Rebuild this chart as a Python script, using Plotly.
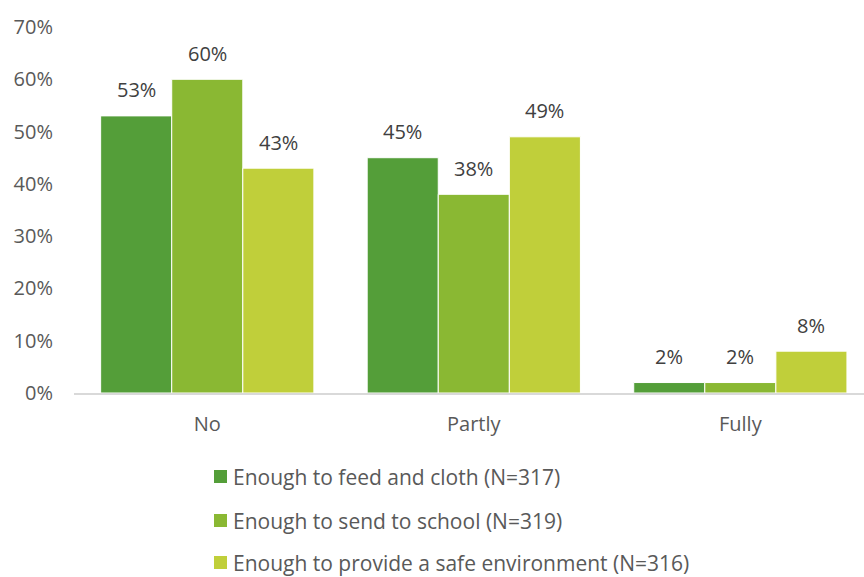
import plotly.graph_objects as go

categories = ["No", "Partly", "Fully"]
series_names = [
    "Enough to feed and cloth (N=317)",
    "Enough to send to school (N=319)",
    "Enough to provide a safe environment (N=316)",
]
feed_cloth = [0.53, 0.45, 0.02]
send_school = [0.60, 0.38, 0.02]
safe_env = [0.43, 0.49, 0.08]
colors = ["#549E39", "#8AB833", "#C0CF3A"]
y_ticks = [0, 0.1, 0.2, 0.3, 0.4, 0.5, 0.6, 0.7]

FONT = "Open Sans"
FS = 20
FS_LEGEND = 21
W, H = 864, 577
M_L, M_R, M_T, M_B = 74, 0, 27, 184
series = [feed_cloth, send_school, safe_env]
bargap = 0.2
n = len(series)
bar_w = (1 - bargap) / n


def px_to_paper(px, py):
    """Convert pixel position in the page to paper coordinates."""
    return ((px - M_L) / (W - M_L - M_R), (H - M_B - py) / (H - M_T - M_B))


fig = go.Figure()
annotations = []
shapes = []
for j, (name, vals, col) in enumerate(zip(series_names, series, colors)):
    fig.add_trace(go.Bar(
        x=categories, y=vals, name=name,
        marker=dict(color=col, line=dict(color="#FFFFFF", width=1)),
        hoverinfo="y", showlegend=False,
    ))
    # value labels above each bar
    for i, v in enumerate(vals):
        annotations.append(dict(
            x=i + (j - (n - 1) / 2) * bar_w, y=v, xref="x", yref="y",
            text=f"{round(v * 100)}%", showarrow=False,
            yanchor="middle", yshift=26,
            font=dict(family=FONT, size=FS, color="#404040"),
        ))

# legend: stacked swatches with labels under the plot
legend_rows = [476.5, 520.5, 562.5]
for name, col, cy in zip(series_names, colors, legend_rows):
    x0, y0 = px_to_paper(214, cy + 6.5)
    x1, y1 = px_to_paper(227, cy - 6.5)
    shapes.append(dict(type="rect", xref="paper", yref="paper",
                       x0=x0, y0=y0, x1=x1, y1=y1,
                       fillcolor=col, line=dict(width=0)))
    tx, ty = px_to_paper(231, cy)
    annotations.append(dict(
        x=tx, y=ty, xref="paper", yref="paper", text=name,
        showarrow=False, xanchor="left", yanchor="middle",
        font=dict(family=FONT, size=FS_LEGEND, color="#595959"),
    ))

fig.update_layout(
    barmode="group", bargap=bargap, bargroupgap=0,
    width=W, height=H,
    margin=dict(l=M_L, r=M_R, t=M_T, b=M_B),
    paper_bgcolor="white", plot_bgcolor="white",
    font=dict(family=FONT, size=FS, color="#595959"),
    annotations=annotations, shapes=shapes,
    showlegend=False,
)
fig.update_xaxes(
    range=[-0.5, 2.464], showline=True, linecolor="#D9D9D9", linewidth=2,
    ticks="", showgrid=False, ticklabelstandoff=12,
    tickfont=dict(family=FONT, size=FS, color="#595959"),
)
fig.update_yaxes(
    range=[0, 0.7], tickvals=y_ticks, tickformat=".0%", showgrid=False,
    zeroline=False, showline=False, ticks="", ticklabelstandoff=20,
    tickfont=dict(family=FONT, size=FS, color="#595959"),
)

fig.write_html("out.html")
